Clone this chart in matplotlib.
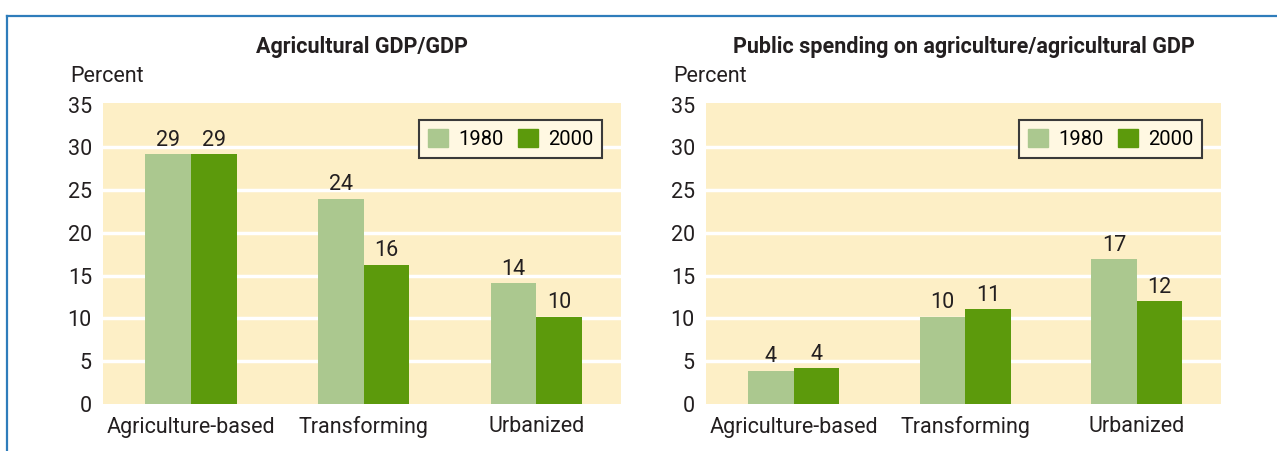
import numpy as np
import matplotlib.pyplot as plt
from matplotlib.patches import Patch
from matplotlib.lines import Line2D

plt.rcParams['font.family'] = ['Roboto', 'DejaVu Sans']

# data
categories = ['Agriculture-based', 'Transforming', 'Urbanized']
years = ['1980', '2000']

gdp_1980 = [29.2, 24.0, 14.1]
gdp_2000 = [29.2, 16.3, 10.2]
gdp_labels_1980 = [29, 24, 14]
gdp_labels_2000 = [29, 16, 10]

spend_1980 = [3.9, 10.2, 16.9]
spend_2000 = [4.2, 11.1, 12.0]
spend_labels_1980 = [4, 10, 17]
spend_labels_2000 = [4, 11, 12]

titles = ['Agricultural GDP/GDP', 'Public spending on agriculture/agricultural GDP']

c_light = '#abc88f'
c_dark = '#5c9a0c'
bg = '#fdefc6'
frame_blue = '#2f7dbb'

W, H = 1277, 451
fig = plt.figure(figsize=(W / 100, H / 100), dpi=100)

# frame lines (top and left)
fig.add_artist(Line2D([7 / W, 1], [1 - 16 / H, 1 - 16 / H], color=frame_blue, lw=1.6))
fig.add_artist(Line2D([7 / W, 7 / W], [0, 1 - 16 / H], color=frame_blue, lw=1.6))

bottom_px, top_px = 404, 103
axes_px = [(103, 621), (706, 1221)]
panels = [
    (gdp_1980, gdp_2000, gdp_labels_1980, gdp_labels_2000),
    (spend_1980, spend_2000, spend_labels_1980, spend_labels_2000),
]

x = np.arange(len(categories))
bw = 0.265
fs = 15.5

for (l, r), (v1, v2, lab1, lab2), title in zip(axes_px, panels, titles):
    ax = fig.add_axes([l / W, (H - bottom_px) / H, (r - l) / W, (bottom_px - top_px) / H])
    ax.set_facecolor(bg)
    for s in ax.spines.values():
        s.set_visible(False)
    for yv in range(5, 35, 5):
        ax.axhline(yv, color='white', lw=2.5, zorder=1)
    ax.bar(x - bw / 2, v1, bw, color=c_light, zorder=2)
    ax.bar(x + bw / 2, v2, bw, color=c_dark, zorder=2)
    for xi, v, t in zip(x - bw / 2, v1, lab1):
        ax.text(xi, v + 0.4, str(t), ha='center', va='bottom', fontsize=fs, color='#231f20')
    for xi, v, t in zip(x + bw / 2, v2, lab2):
        ax.text(xi, v + 0.4, str(t), ha='center', va='bottom', fontsize=fs, color='#231f20')
    ax.set_xlim(-0.51, 2.49)
    ax.set_ylim(0, 35.2)
    ax.set_yticks(range(0, 36, 5))
    ax.set_xticks(x)
    ax.set_xticklabels(categories)
    ax.tick_params(length=0, labelsize=fs, labelcolor='#231f20')
    ax.tick_params(axis='y', pad=8)
    ax.tick_params(axis='x', pad=9)
    leg = ax.legend(handles=[Patch(color=c_light, label=years[0]), Patch(color=c_dark, label=years[1])],
                    loc='upper right', bbox_to_anchor=(0.964, 0.944), borderaxespad=0,
                    ncol=2, fontsize=14.5,
                    frameon=True, fancybox=False, handlelength=1.0, handleheight=1.0,
                    handletextpad=0.5, columnspacing=0.7, borderpad=0.45)
    leg.get_frame().set_facecolor('#fff8e2')
    leg.get_frame().set_edgecolor('#3a3a3a')
    leg.get_frame().set_linewidth(1.5)
    leg.get_frame().set_alpha(1)
    fig.text((l + r) / 2 / W, 1 - 47 / H, title, ha='center', va='center',
             fontsize=fs, fontweight='bold', color='#231f20')
    fig.text((l - 33) / W, 1 - 77 / H, 'Percent', ha='left', va='center',
             fontsize=fs, color='#231f20')

fig.savefig('out.png', dpi=100)
